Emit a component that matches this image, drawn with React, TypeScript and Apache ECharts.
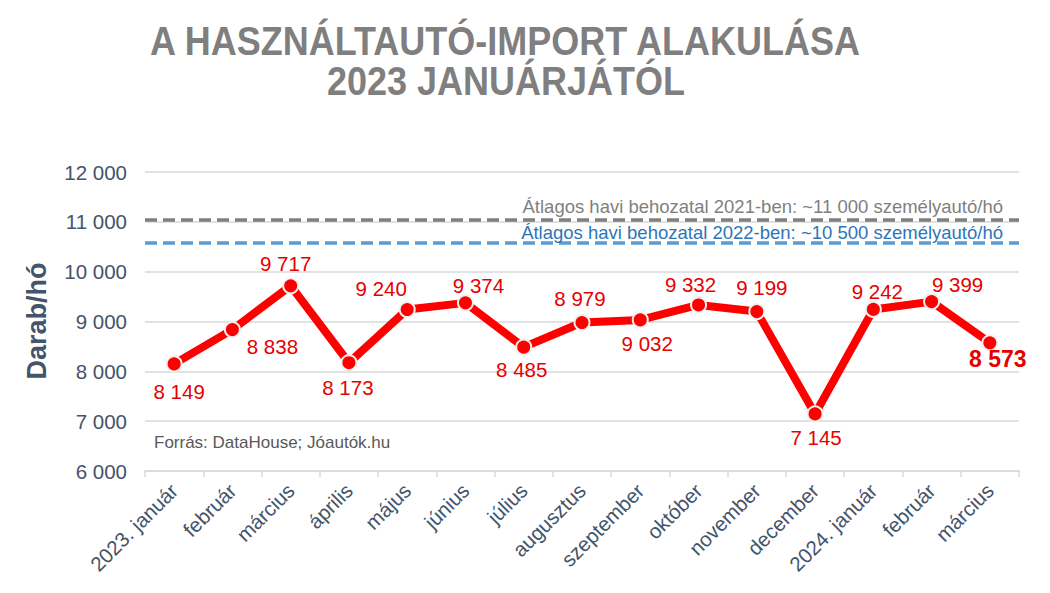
import React, { useEffect, useRef } from 'react';
import * as echarts from 'echarts';

const months = [
  '2023. január', 'február', 'március', 'április', 'május', 'június', 'július',
  'augusztus', 'szeptember', 'október', 'november', 'december',
  '2024. január', 'február', 'március',
];
const imports = [8149, 8838, 9717, 8173, 9240, 9374, 8485, 8979, 9032, 9332, 9199, 7145, 9242, 9399, 8573];
// where each value label sits, relative to its point
const labelOffsets = [
  [5, 28], [40, 17], [-5, -22], [-1, 25], [-26, -21], [13, -17], [-2, 22], [-2, -24],
  [7, 24], [-8, -20], [5, -24], [1, 24], [4, -18], [26, -17], [8, 16],
];
const avg2021 = 11040;
const avg2022 = 10580;
const avgLabels = [
  'Átlagos havi behozatal 2021-ben: ~11 000 személyautó/hó',
  'Átlagos havi behozatal 2022-ben: ~10 500 személyautó/hó',
];

const fmt = (v: number) => {
  const s = String(v);
  return s.length > 3 ? s.slice(0, s.length - 3) + ' ' + s.slice(-3) : s;
};

const FONT = '"Liberation Sans", Arial, sans-serif';
const AXIS_COLOR = '#44546a';

const App = () => {
  const chartRef = useRef<HTMLDivElement>(null);

  useEffect(() => {
    if (!chartRef.current) return;
    const chart = echarts.init(chartRef.current, undefined, { renderer: 'svg' });
    const last = imports.length - 1;

    const option: echarts.EChartsOption = {
      animation: false,
      textStyle: { fontFamily: FONT },
      grid: { left: 137, right: 23, top: 164, bottom: 114 },
      graphic: [
        {
          type: 'text', x: 497, y: 33, scaleX: 0.9,
          style: {
            text: 'A HASZNÁLTAUTÓ-IMPORT ALAKULÁSA', fill: '#7f7f7f',
            fontSize: 40, fontWeight: 'bold', fontFamily: FONT,
            align: 'center', verticalAlign: 'middle',
          },
        },
        {
          type: 'text', x: 498, y: 73, scaleX: 0.9,
          style: {
            text: '2023 JANUÁRJÁTÓL', fill: '#7f7f7f',
            fontSize: 40, fontWeight: 'bold', fontFamily: FONT,
            align: 'center', verticalAlign: 'middle',
          },
        },
        {
          type: 'text', x: 29, y: 313, rotation: Math.PI / 2,
          style: {
            text: 'Darab/hó', fill: AXIS_COLOR,
            fontSize: 27, fontWeight: 'bold', fontFamily: FONT,
            align: 'center', verticalAlign: 'middle',
          },
        },
        {
          type: 'text', x: 146, y: 434,
          style: {
            text: 'Forrás: DataHouse; Jóautók.hu', fill: '#595959',
            fontSize: 17, fontFamily: FONT,
            align: 'left', verticalAlign: 'middle',
          },
        },
      ],
      xAxis: {
        type: 'category',
        data: months,
        boundaryGap: true,
        axisLine: { lineStyle: { color: '#d9d9d9', width: 1.5 } },
        axisTick: { show: true, length: 6, lineStyle: { color: '#d9d9d9', width: 1.5 } },
        axisLabel: { rotate: 45, color: AXIS_COLOR, fontSize: 20.5, margin: 16, interval: 0 },
      },
      yAxis: {
        type: 'value',
        min: 6000,
        max: 12000,
        interval: 1000,
        axisLine: { show: false },
        axisTick: { show: false },
        axisLabel: { color: AXIS_COLOR, fontSize: 20.5, margin: 18, formatter: (v: number) => fmt(v) },
        splitLine: { lineStyle: { color: '#d9d9d9', width: 1.5 } },
      },
      series: [
        {
          type: 'line',
          data: imports.map((v, i) => ({
            value: v,
            label: {
              show: true,
              position: 'inside',
              offset: labelOffsets[i],
              formatter: fmt(v),
              color: '#e60000',
              fontSize: i === last ? 23 : 20.5,
              fontWeight: i === last ? 'bold' : 'normal',
            },
          })),
          lineStyle: { color: '#ff0000', width: 8 },
          symbol: 'circle',
          symbolSize: 15,
          itemStyle: { color: '#ff0000', borderColor: '#f0f0f0', borderWidth: 2 },
          markLine: {
            silent: true,
            symbol: 'none',
            data: [
              {
                yAxis: avg2021,
                lineStyle: { color: '#7f7f7f', type: [12, 6], width: 3.5 },
                label: {
                  show: true, position: 'insideEndTop', formatter: avgLabels[0],
                  color: '#7f7f7f', fontSize: 18.5, distance: [16, 4],
                },
              },
              {
                yAxis: avg2022,
                lineStyle: { color: '#5b9bd5', type: [12, 6], width: 3.5 },
                label: {
                  show: true, position: 'insideEndTop', formatter: avgLabels[1],
                  color: '#2e75b6', fontSize: 18.5, distance: [16, 1],
                },
              },
            ],
          },
        },
      ],
    };

    chart.setOption(option);
    return () => {
      chart.dispose();
    };
  }, []);

  return <div ref={chartRef} style={{ width: '1034px', height: '577px' }} />;
};

export default App;
